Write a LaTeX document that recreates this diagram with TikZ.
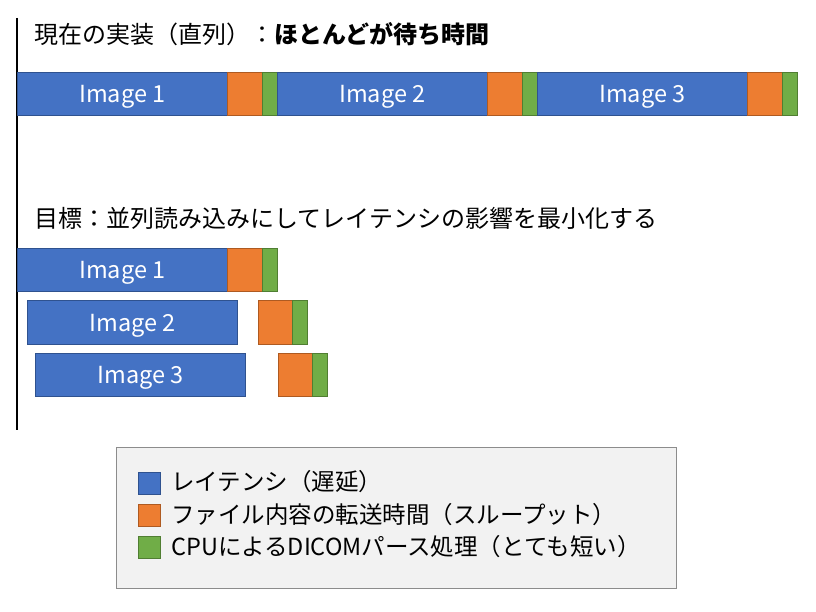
\documentclass[tikz,border=0pt]{standalone}
\usepackage{fontspec}
\setmainfont{Noto Sans CJK JP}
\usetikzlibrary{positioning}
\definecolor{LatBlue}{HTML}{4472C4}
\definecolor{LatBlueD}{HTML}{2F528F}
\definecolor{XferOrange}{HTML}{ED7D31}
\definecolor{XferOrangeD}{HTML}{AE5A21}
\definecolor{ParseGreen}{HTML}{70AD47}
\definecolor{ParseGreenD}{HTML}{507E32}
\definecolor{LegendGray}{HTML}{F2F2F2}
\definecolor{LegendEdge}{HTML}{8C8C8C}
\tikzset{
	every node/.style={
		align=center,
	},
	seg/.style={draw, line width=0.9pt, minimum height=43.5pt, inner sep=0pt, outer sep=0pt},
	latency/.style={seg, fill=LatBlue, draw=LatBlueD, text=white, minimum width=210.5pt, text height=20pt, text depth=2pt, font=\fontsize{23.5}{28}\selectfont},
	transfer/.style={seg, fill=XferOrange, draw=XferOrangeD, minimum width=34.5pt},
	parse/.style={seg, fill=ParseGreen, draw=ParseGreenD, minimum width=15pt},
	heading/.style={anchor=west, inner sep=0pt, font=\fontsize{24}{29}\selectfont},
	keybox/.style={draw, line width=0.9pt, minimum width=22pt, minimum height=22pt, inner sep=0pt, outer sep=0pt},
	keytext/.style={anchor=west, inner sep=0pt, font=\fontsize{23.5}{28}\selectfont},
}

\begin{document}
\begin{tikzpicture}[x=1pt, y=-1pt]
    \useasboundingbox (0,0) rectangle (816,612);

    \coordinate (axtop) at (17,18);
    \coordinate (axbot) at (17,430);
    \draw [line width=1.6pt] (axtop) -- (axbot);

    % serial
    \node (cur) [heading] at (34,34) {現在の実装（直列）：{\bfseries ほとんどが待ち時間}};
    \node (sb1) [latency, anchor=north west] at (17,72) {Image 1};
    \node (so1) [transfer, right=0pt of sb1] {};
    \node (sg1) [parse, right=0pt of so1] {};
    \node (sb2) [latency, right=0pt of sg1] {Image 2};
    \node (so2) [transfer, right=0pt of sb2] {};
    \node (sg2) [parse, right=0pt of so2] {};
    \node (sb3) [latency, right=0pt of sg2] {Image 3};
    \node (so3) [transfer, right=0pt of sb3] {};
    \node (sg3) [parse, right=0pt of so3] {};

    % parallel
    \node (goal) [heading] at (34,218) {目標：並列読み込みにしてレイテンシの影響を最小化する};
    \node (pb1) [latency, anchor=north west] at (17,248) {Image 1};
    \node (po1) [transfer, right=0pt of pb1] {};
    \node (pg1) [parse, right=0pt of po1] {};
    \node (pb2) [latency, anchor=north west] at (27.3,300.5) {Image 2};
    \node (po2) [transfer, right=20.6pt of pb2] {};
    \node (pg2) [parse, right=0pt of po2] {};
    \node (pb3) [latency, anchor=north west] at (35.3,353) {Image 3};
    \node (po3) [transfer, right=32.6pt of pb3] {};
    \node (pg3) [parse, right=0pt of po3] {};

    % legend
    \node (legend) [draw=LegendEdge, fill=LegendGray, line width=0.9pt, minimum width=560pt, minimum height=141pt, anchor=north west] at (116,447) {};
    \node (kb) [keybox, fill=LatBlue, draw=LatBlueD, anchor=north west] at (138,472) {};
    \node (ko) [keybox, fill=XferOrange, draw=XferOrangeD, below=10pt of kb] {};
    \node (kg) [keybox, fill=ParseGreen, draw=ParseGreenD, below=10pt of ko] {};
    \node (tb) [keytext, right=11pt of kb, yshift=1.5pt] {レイテンシ（遅延）};
    \node (to) [keytext, right=11pt of ko, yshift=0.5pt] {ファイル内容の転送時間（スループット）};
    \node (tg) [keytext, right=11pt of kg] {CPUによるDICOMパース処理（とても短い）};

    \end{tikzpicture}
\end{document}
